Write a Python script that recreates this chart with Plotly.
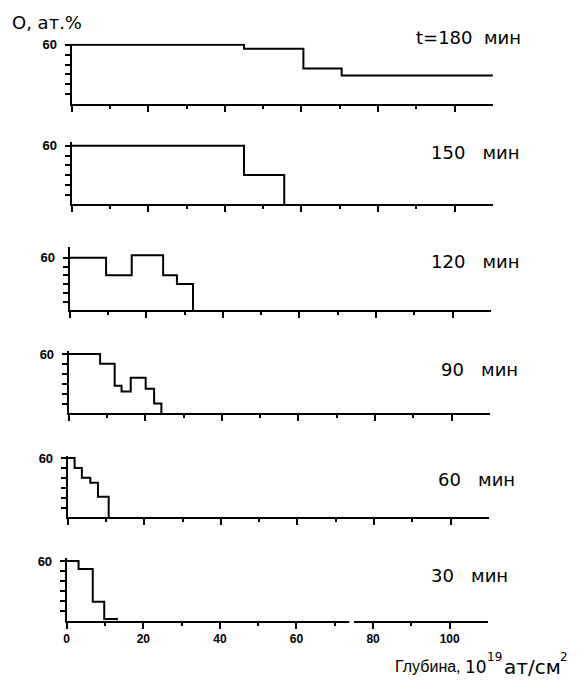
import plotly.graph_objects as go

# ---- data (depth in 10^19 at/cm^2, O in at.%) ----
depth_180 = [0, 45, 60.5, 70.5, 110]
o_180 = [60, 56, 36, 29, 29]
depth_150 = [0, 45, 55.5]
o_150 = [60, 30, 0]
depth_120 = [0, 9.5, 16.2, 24.4, 28, 32.2]
o_120 = [60, 40, 63, 40, 30, 0]
depth_90 = [0, 8.2, 12, 13.8, 16.2, 20.1, 22.3, 24.2]
o_90 = [60, 50, 28, 22, 36, 25, 10, 0]
depth_60 = [0, 1.8, 3.7, 5.9, 7.9, 10.7]
o_60 = [60, 50, 40, 35, 21, 0]
depth_30 = [0, 3.1, 6.8, 9.8, 13.1]
o_30 = [60, 52, 19, 1.5, 0]

NB = "\u00a0"
panel_labels = ["t=180" + NB * 2 + "мин", "150" + NB * 3 + "мин", "120" + NB * 3 + "мин",
                "90" + NB * 3 + "мин", "60" + NB * 3 + "мин", "30" + NB * 3 + "мин"]
x_major = [0, 20, 40, 60, 80, 100]
x_minor = [10, 30, 50, 70, 90]
y_major = [60]
y_minor = [10, 20, 30, 40, 50]

series = [(depth_180, o_180), (depth_150, o_150), (depth_120, o_120),
          (depth_90, o_90), (depth_60, o_60), (depth_30, o_30)]

# ---- layout geometry (reference pixels; page offset compensated) ----
OFF = 8
W, H = 581 - OFF, 683 - OFF
def px(x):
    return (x - OFF) / W
def py(y):
    return 1 - (y - OFF) / H

geom = [  # x0, y0, px per y unit, y top
    (69, 99, 1.0, 61),
    (69, 200, 0.983, 64),
    (67, 307, 0.883, 72),
    (66, 411, 1.0, 63),
    (65, 516, 1.0, 62),
    (64, 620, 1.0, 63),
]
XMAX = 110
XW = 423.5
label_pos = [(523, 32), (522, 148), (522, 258), (520, 367), (517, 478), (510, 575)]

fig = go.Figure()
FONT = "Liberation Sans"
WIDE = "DejaVu Sans"
layout = dict(width=W, height=H, autosize=False, margin=dict(l=0, r=0, t=0, b=0),
              paper_bgcolor="white", plot_bgcolor="white", showlegend=False)
annotations = []
shapes = []
for i, ((xs, ys), (x0, y0, ppu, ytop)) in enumerate(zip(series, geom)):
    n = i + 1
    xa = "x" if n == 1 else f"x{n}"
    ya = "y" if n == 1 else f"y{n}"
    fig.add_trace(go.Scatter(x=xs, y=ys, mode="lines", line=dict(color="black", width=2, shape="hv"),
                             xaxis=xa, yaxis=ya, cliponaxis=False, hoverinfo="skip"))
    last = (n == 6)
    xd = dict(
        domain=[px(x0), px(x0 + XW)], range=[0, XMAX], anchor=ya,
        showline=True, linecolor="black", linewidth=2, showgrid=False, zeroline=False,
        ticks="outside", ticklen=6, tickwidth=2, tickcolor="black",
        tickvals=x_major, showticklabels=last,
        minor=dict(tickvals=x_minor, ticks="outside", ticklen=3, tickwidth=2, tickcolor="black"),
    )
    if last:
        xd["ticktext"] = [str(v) for v in x_major]
        xd["tickfont"] = dict(family=FONT, size=12, color="black", weight="bold")
    layout[f"xaxis{'' if n == 1 else n}"] = xd
    layout[f"yaxis{'' if n == 1 else n}"] = dict(
        domain=[py(y0), py(y0 - ytop * ppu)], range=[0, ytop], anchor=xa,
        showline=True, linecolor="black", linewidth=2, showgrid=False, zeroline=False,
        ticks="outside", ticklen=5, tickwidth=2, tickcolor="black",
        tickvals=y_major, ticktext=[str(v) for v in y_major], ticklabelstandoff=5,
        tickfont=dict(family=FONT, size=13, color="black", weight="bold"),
        minor=dict(tickvals=y_minor, ticks="outside", ticklen=5, tickwidth=2, tickcolor="black"),
    )
    lx, ly = label_pos[i]
    annotations.append(dict(text=panel_labels[i], x=px(lx), y=py(ly),
                            xref="paper", yref="paper", xanchor="right", yanchor="middle",
                            showarrow=False, font=dict(family=WIDE, size=18, color="black")))

# break in the bottom depth axis
shapes.append(dict(type="rect", xref="x6", yref="paper", x0=73.8, x1=75.0,
                   y0=py(626), y1=py(614), fillcolor="white", line=dict(width=0), layer="above"))

def txt(t, x, y, size, family, anchor="left"):
    annotations.append(dict(text=t, x=px(x), y=py(y), xref="paper", yref="paper",
                            xanchor=anchor, yanchor="middle", showarrow=False, borderpad=0,
                            font=dict(family=family, size=size, color="black")))

txt("O, ат.%", 8, 17, 18, WIDE)
# depth axis title, laid out piece by piece as in the original
txt("Глубина,", 461, 666, 16, FONT, "right")
txt("10", 463, 667, 17, WIDE)
txt("19", 486, 657, 12, WIDE)
txt("ат/см", 503, 667, 20, WIDE)
txt("2", 559, 657, 12, WIDE)

layout["annotations"] = annotations
layout["shapes"] = shapes
fig.update_layout(**layout)
fig.write_html("out.html")
